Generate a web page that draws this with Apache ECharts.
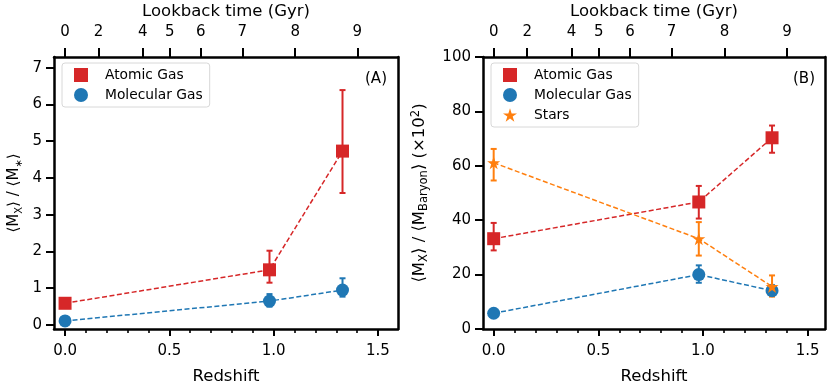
<!DOCTYPE html>
<html><head><meta charset="utf-8">
<script src="https://cdn.jsdelivr.net/npm/echarts@6/dist/echarts.min.js"></script>
<style>html,body{margin:0;padding:0;background:#fff}#c{width:831px;height:389px}</style>
</head><body><div id="c"></div><script>
// ---- data ----
const redshift = [0.0, 0.98, 1.33];
// Panel A: <M_X>/<M_*>
const atomicA   = [0.59, 1.50, 4.73];
const atomicALo = [0.50, 1.15, 3.59];
const atomicAHi = [0.70, 2.02, 6.39];
const molA   = [0.11, 0.65, 0.95];
const molALo = [0.08, 0.50, 0.77];
const molAHi = [0.14, 0.84, 1.27];
// Panel B: <M_X>/<M_Baryon> (x10^2)
const atomicB   = [33.2, 46.7, 70.3];
const atomicBLo = [28.9, 40.6, 64.8];
const atomicBHi = [39.0, 52.6, 74.8];
const molB   = [5.8, 20.0, 14.1];
const molBLo = [5.1, 17.0, 12.2];
const molBHi = [6.5, 23.4, 16.1];
const starsB   = [61.1, 33.2, 15.6];
const starsBLo = [54.6, 27.0, 11.9];
const starsBHi = [66.2, 39.3, 19.7];
// ticks
const redshiftTicks = [0.0, 0.5, 1.0, 1.5];
const redshiftMinor = [0.1, 0.2, 0.3, 0.4, 0.6, 0.7, 0.8, 0.9, 1.1, 1.2, 1.3, 1.4];
const lookbackGyr = [0, 2, 4, 5, 6, 7, 8, 9];
const lookbackZ   = [0, 0.16, 0.372, 0.502, 0.651, 0.85, 1.103, 1.401];
const yTicksA = [0, 1, 2, 3, 4, 5, 6, 7];
const yTicksB = [0, 20, 40, 60, 80, 100];

const RED = '#d62728', BLUE = '#1f77b4', ORANGE = '#ff7f0e';
const FONT = 'DejaVu Sans';
const STAR = 'path://M50 0 L61.23 34.55 L97.55 34.55 L68.16 55.9 L79.39 90.45 L50 69.1 L20.61 90.45 L31.84 55.9 L2.45 34.55 L38.77 34.55 Z';

function zip(xs, ys) { return xs.map((x, i) => [x, ys[i]]); }

function xAxes(gi, min, max) {
  const lineS = {color: '#000', width: 2.5};
  return [
    {gridIndex: gi, type: 'value', position: 'bottom', min, max,
     axisLine: {show: true, onZero: false, lineStyle: lineS},
     axisTick: {show: true, length: 7, customValues: redshiftTicks, lineStyle: {color: '#000', width: 2}},
     axisLabel: {show: true, customValues: redshiftTicks, formatter: v => v.toFixed(1), margin: 15,
                 fontSize: 15, color: '#000', fontFamily: FONT},
     splitLine: {show: false},
     name: 'Redshift', nameLocation: 'middle', nameGap: 39,
     nameTextStyle: {fontSize: 16.5, color: '#000', fontFamily: FONT}},
    {gridIndex: gi, type: 'value', position: 'bottom', min, max,
     axisLine: {show: false, onZero: false},
     axisTick: {show: true, length: 4, customValues: redshiftMinor, lineStyle: {color: '#000', width: 1.6}},
     axisLabel: {show: false}, splitLine: {show: false}},
    {gridIndex: gi, type: 'value', position: 'top', min, max,
     axisLine: {show: true, onZero: false, lineStyle: lineS},
     axisTick: {show: true, length: 9, customValues: lookbackZ, lineStyle: {color: '#000', width: 2}},
     axisLabel: {show: true, customValues: lookbackZ, margin: 17,
                 formatter: v => { let k = 0, d = 1e9; lookbackZ.forEach((z, i) => { if (Math.abs(z - v) < d) { d = Math.abs(z - v); k = i; } }); return String(lookbackGyr[k]); },
                 fontSize: 15, color: '#000', fontFamily: FONT},
     splitLine: {show: false},
     name: 'Lookback time (Gyr)', nameLocation: 'middle', nameGap: 37,
     nameTextStyle: {fontSize: 16.5, color: '#000', fontFamily: FONT}}
  ];
}

function yAxes(gi, min, max, ticks, name, gap, fs, ss) {
  const lineS = {color: '#000', width: 2.5};
  return [
    {gridIndex: gi, type: 'value', position: 'left', min, max,
     axisLine: {show: true, onZero: false, lineStyle: lineS},
     axisTick: {show: true, length: 8, customValues: ticks, lineStyle: {color: '#000', width: 2}},
     axisLabel: {show: true, customValues: ticks, margin: 12, fontSize: 15, color: '#000', fontFamily: FONT},
     splitLine: {show: false},
     name, nameLocation: 'middle', nameGap: gap, nameRotate: 90,
     nameTextStyle: {color: '#000', fontFamily: FONT, fontSize: fs, lineHeight: 20,
       rich: {n: {fontSize: fs, fontFamily: FONT, lineHeight: 20, verticalAlign: 'middle', color: '#000'},
              s: {fontSize: ss, fontFamily: FONT, lineHeight: 20, verticalAlign: 'bottom', color: '#000'},
              p: {fontSize: ss, fontFamily: FONT, lineHeight: 20, verticalAlign: 'top', color: '#000'}}}},
    {gridIndex: gi, type: 'value', position: 'right', min, max,
     axisLine: {show: true, onZero: false, lineStyle: lineS},
     axisTick: {show: false}, axisLabel: {show: false}, splitLine: {show: false}}
  ];
}

function errSeries(name, xi, yi, color, lo, hi) {
  return {
    type: 'custom', name, xAxisIndex: xi, yAxisIndex: yi, z: 2, silent: true, animation: false,
    data: redshift.map((x, i) => [x, lo[i], hi[i]]),
    encode: {x: 0, y: [1, 2]},
    renderItem(params, api) {
      const x = api.value(0);
      const a = api.coord([x, api.value(1)]);
      const b = api.coord([x, api.value(2)]);
      const cw = 3, st = {stroke: color, lineWidth: 2};
      return {type: 'group', children: [
        {type: 'line', shape: {x1: a[0], y1: a[1], x2: b[0], y2: b[1]}, style: st},
        {type: 'line', shape: {x1: a[0] - cw, y1: a[1], x2: a[0] + cw, y2: a[1]}, style: st},
        {type: 'line', shape: {x1: b[0] - cw, y1: b[1], x2: b[0] + cw, y2: b[1]}, style: st}
      ]};
    }
  };
}

function lineSeries(name, xi, yi, color, symbol, size, ys) {
  return {type: 'line', name, xAxisIndex: xi, yAxisIndex: yi, z: 2, animation: false,
    data: zip(redshift, ys), symbol, symbolSize: size, showSymbol: true,
    lineStyle: {color, width: 1.5, type: [5, 2.5]}, itemStyle: {color, opacity: 1},
    emphasis: {disabled: true}};
}

function legend(left, items) {
  return {left, top: 63, orient: 'vertical', padding: [5, 7, 5, 12], itemGap: 6,
    itemWidth: 14, itemHeight: 14, borderColor: '#d8d8d8', borderWidth: 1, borderRadius: 3,
    backgroundColor: 'rgba(255,255,255,0.8)', selectedMode: false,
    textStyle: {fontSize: 13.8, color: '#000', fontFamily: FONT, padding: [0, 0, 0, 12]},
    data: items};
}

const chart = echarts.init(document.getElementById('c'), null, {renderer: 'canvas'});
chart.setOption({
  animation: false,
  backgroundColor: '#fff',
  grid: [
    {left: 54, right: 433, top: 57, bottom: 60, containLabel: false, outerBoundsMode: 'none'},
    {left: 483, right: 6, top: 57, bottom: 60, containLabel: false, outerBoundsMode: 'none'}
  ],
  xAxis: [...xAxes(0, -0.053, 1.596), ...xAxes(1, -0.051, 1.583)],
  yAxis: [
    ...yAxes(0, -0.11, 7.29, yTicksA, '{n|⟨M}{s|X}{n|⟩ / ⟨M}{s|∗}{n|⟩}', 30, 15, 10),
    ...yAxes(1, 0, 100, yTicksB, '{n|⟨M}{s|X}{n|⟩ / ⟨M}{s|Baryon}{n|⟩ (×10}{p|2}{n|)}', 53, 16.5, 11.5)
  ],
  legend: [
    legend(62, [
      {name: 'Atomic Gas', icon: 'rect', itemStyle: {color: RED}},
      {name: 'Molecular Gas', icon: 'circle', itemStyle: {color: BLUE}}]),
    legend(491, [
      {name: 'Atomic Gas', icon: 'rect', itemStyle: {color: RED}},
      {name: 'Molecular Gas', icon: 'circle', itemStyle: {color: BLUE}},
      {name: 'Stars', icon: STAR, itemStyle: {color: ORANGE}}])
  ],
  graphic: [
    {type: 'text', x: 376, y: 79, style: {text: '(A)', x: 0, y: 0, align: 'center', verticalAlign: 'middle', fontSize: 15, fontFamily: FONT, fill: '#000'}},
    {type: 'text', x: 804, y: 79, style: {text: '(B)', x: 0, y: 0, align: 'center', verticalAlign: 'middle', fontSize: 15, fontFamily: FONT, fill: '#000'}}
  ],
  series: [
    errSeries('errA1', 0, 0, RED, atomicALo, atomicAHi),
    lineSeries('Atomic Gas', 0, 0, RED, 'rect', 13, atomicA),
    errSeries('errA2', 0, 0, BLUE, molALo, molAHi),
    lineSeries('Molecular Gas', 0, 0, BLUE, 'circle', 13, molA),
    errSeries('errB1', 3, 2, RED, atomicBLo, atomicBHi),
    lineSeries('Atomic Gas', 3, 2, RED, 'rect', 13, atomicB),
    errSeries('errB2', 3, 2, BLUE, molBLo, molBHi),
    lineSeries('Molecular Gas', 3, 2, BLUE, 'circle', 13, molB),
    errSeries('errB3', 3, 2, ORANGE, starsBLo, starsBHi),
    lineSeries('Stars', 3, 2, ORANGE, STAR, 13, starsB)
  ]
});
</script></body></html>
